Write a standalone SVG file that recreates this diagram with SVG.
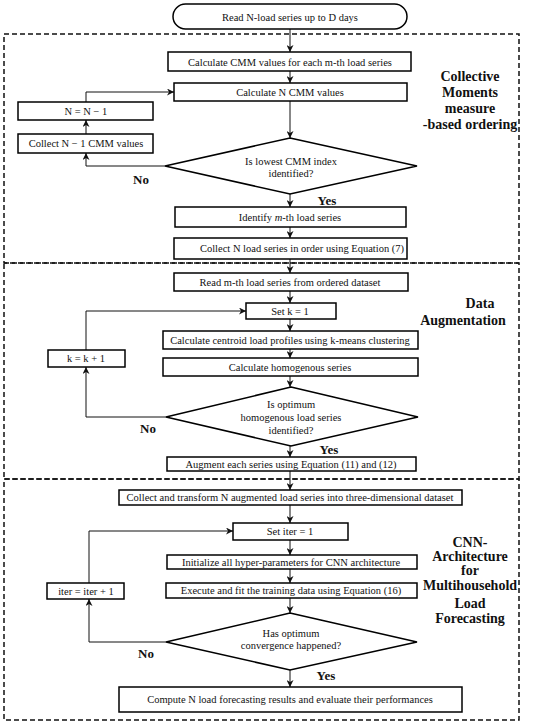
<svg xmlns="http://www.w3.org/2000/svg" width="550" height="724" viewBox="0 0 550 724">
<style>
.b{fill:#fff;stroke:#000;stroke-width:1.5}
.t{font-family:"Liberation Serif",serif;font-size:10.5px;fill:#111;text-anchor:middle;dominant-baseline:central}
.m{font-family:"Liberation Serif",serif;font-size:10.5px;fill:#111;text-anchor:middle;dominant-baseline:central}
.lb{font-family:"Liberation Serif",serif;font-size:14px;font-weight:bold;fill:#111;text-anchor:middle;dominant-baseline:central}
.yn{font-family:"Liberation Serif",serif;font-size:13px;font-weight:bold;fill:#111;text-anchor:middle;dominant-baseline:central}
.sec{fill:none;stroke:#111;stroke-width:1.5;stroke-dasharray:5,3}
.c{fill:none;stroke:#111;stroke-width:1;marker-end:url(#ah)}
</style>
<defs>
<marker id="ah" viewBox="0 0 10 10" refX="10" refY="5" markerWidth="7" markerHeight="7" markerUnits="userSpaceOnUse" orient="auto">
<path d="M0,0 L10,5 L0,10 L3,5 z" fill="#111"/>
</marker>
</defs>
<rect width="550" height="724" fill="#fff"/>
<g id="sections">
<rect class="sec" x="4" y="34" width="515" height="229"/>
<rect class="sec" x="4" y="263" width="515" height="216"/>
<rect class="sec" x="4" y="479" width="515" height="241"/>
</g>
<g id="connectors">
<path class="c" d="M290,29 V52"/>
<path class="c" d="M290,71 V83"/>
<path class="c" d="M290,101 V138"/>
<path class="c" d="M290,194 V207"/>
<path class="c" d="M290,227 V238"/>
<path class="c" d="M290,259 V273"/>
<path class="c" d="M290,291 V303"/>
<path class="c" d="M290,319 V331"/>
<path class="c" d="M290,349 V358"/>
<path class="c" d="M290,376 V387"/>
<path class="c" d="M290,446 V457"/>
<path class="c" d="M290,471 V490"/>
<path class="c" d="M290,505 V523"/>
<path class="c" d="M290,540 V555"/>
<path class="c" d="M290,569 V583"/>
<path class="c" d="M290,598 V613"/>
<path class="c" d="M290,670 V687"/>
<path class="c" d="M165,166 H86 V153"/>
<path class="c" d="M86,134 V120"/>
<path class="c" d="M86,102 V92 H174"/>
<path class="c" d="M166,417 H86 V367"/>
<path class="c" d="M86,350 V311 H246"/>
<path class="c" d="M166,642 H89 V599"/>
<path class="c" d="M89,583 V531 H233"/>
</g>
<g id="start"><rect class="b" x="173" y="4" width="234" height="25" rx="12.5"/><text class="t" x="290" y="17">Read N-load series up to D days</text></g>
<g id="n1"><rect class="b" x="168" y="52" width="243" height="19"/><text class="t" x="290" y="62">Calculate CMM values for each m-th load series</text></g>
<g id="n2"><rect class="b" x="174" y="83" width="233" height="18"/><text class="t" x="290" y="92">Calculate N CMM values</text></g>
<g id="n3"><rect class="b" x="18" y="102" width="135" height="18"/><text class="m" x="86" y="111">N = N − 1</text></g>
<g id="n4"><rect class="b" x="18" y="134" width="135" height="19"/><text class="t" x="86" y="143.5">Collect  N − 1 CMM values</text></g>
<g id="d1"><polygon class="b" points="290,138 417,166 290,194 165,166"/><text class="t" x="291" y="161">Is lowest CMM index</text><text class="t" x="291" y="173">identified?</text></g>
<g id="n5"><rect class="b" x="175" y="207" width="231" height="20"/><text class="t" x="290" y="217">Identify <tspan font-style="italic">m</tspan>-th load series</text></g>
<g id="n6"><rect class="b" x="174" y="238" width="233" height="21"/><text class="t" x="302" y="248.5">Collect N load series in order using Equation (7)</text></g>
<g id="n7"><rect class="b" x="174" y="273" width="234" height="18"/><text class="t" x="290" y="282">Read m-th load series from ordered dataset</text></g>
<g id="n8"><rect class="b" x="246" y="303" width="90" height="16"/><text class="m" x="290" y="311">Set k = 1</text></g>
<g id="n9"><rect class="b" x="163" y="331" width="255" height="18"/><text class="t" x="290" y="340">Calculate centroid load profiles using k-means clustering</text></g>
<g id="n10"><rect class="b" x="48" y="350" width="77" height="17"/><text class="m" x="86" y="358.5">k = k + 1</text></g>
<g id="n11"><rect class="b" x="163" y="358" width="255" height="18"/><text class="t" x="290" y="367">Calculate homogenous  series</text></g>
<g id="d2"><polygon class="b" points="291,387 418,417 291,446 166,417"/><text class="t" x="291" y="404">Is optimum</text><text class="t" x="291" y="417">homogenous load series</text><text class="t" x="291" y="430">identified?</text></g>
<g id="n12"><rect class="b" x="167" y="457" width="249" height="14"/><text class="t" x="291" y="464">Augment each series using Equation (11) and (12)</text></g>
<g id="n13"><rect class="b" x="119" y="490" width="343" height="15"/><text class="t" x="290" y="497.5">Collect and transform N augmented load series into three-dimensional dataset</text></g>
<g id="n14"><rect class="b" x="233" y="523" width="115" height="17"/><text class="m" x="290" y="531.5">Set iter = 1</text></g>
<g id="n15"><rect class="b" x="167" y="555" width="250" height="14"/><text class="t" x="291" y="562">Initialize all hyper-parameters for CNN architecture</text></g>
<g id="n16"><rect class="b" x="47" y="583" width="77" height="16"/><text class="m" x="86" y="591">iter = iter + 1</text></g>
<g id="n17"><rect class="b" x="166" y="583" width="251" height="15"/><text class="t" x="291" y="590.5">Execute and fit the training data using Equation  (16)</text></g>
<g id="d3"><polygon class="b" points="290,613 417,642 290,670 166,642"/><text class="t" x="291" y="633">Has  optimum</text><text class="t" x="291" y="645">convergence happened?</text></g>
<g id="n18"><rect class="b" x="119" y="687" width="343" height="25"/><text class="t" x="290" y="699.5">Compute  N load forecasting results and evaluate their performances</text></g>
<g id="labels">
<text class="yn" x="141" y="179">No</text>
<text class="yn" x="327" y="200">Yes</text>
<text class="yn" x="148" y="428">No</text>
<text class="yn" x="329" y="449">Yes</text>
<text class="yn" x="146" y="653">No</text>
<text class="yn" x="326" y="675">Yes</text>
<text class="lb" x="470" y="76">Collective</text>
<text class="lb" x="470" y="92">Moments</text>
<text class="lb" x="470" y="108">measure</text>
<text class="lb" x="470" y="124">-based ordering</text>
<text class="lb" x="480" y="303">Data</text>
<text class="lb" x="463" y="320">Augmentation</text>
<text class="lb" x="470" y="542">CNN-</text>
<text class="lb" x="470" y="556">Architecture</text>
<text class="lb" x="470" y="570">for</text>
<text class="lb" x="470" y="585">Multihousehold</text>
<text class="lb" x="470" y="603">Load</text>
<text class="lb" x="470" y="618">Forecasting</text>
</g>
</svg>
